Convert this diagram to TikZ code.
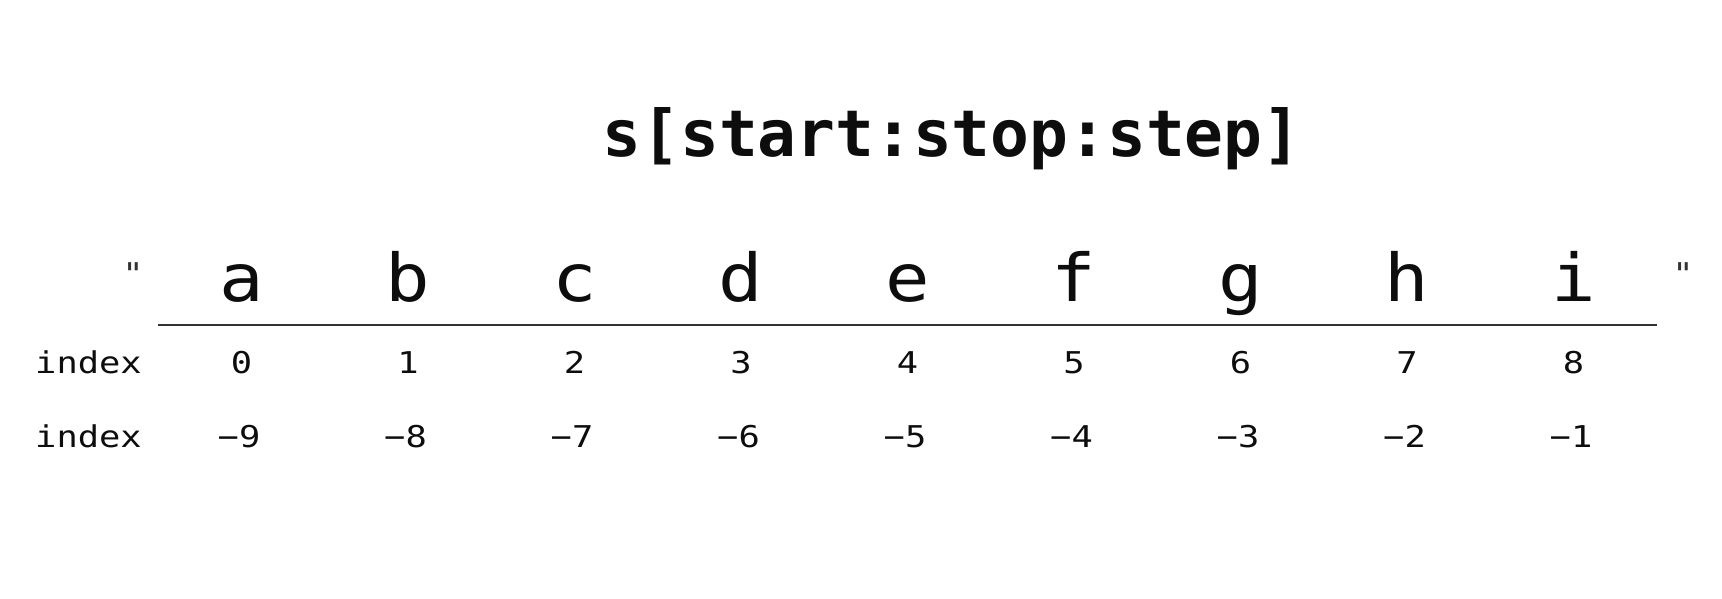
\documentclass[tikz,border=0pt]{standalone}
\usepackage{fontspec}
\newfontfamily\monofnt[FakeStretch=1.12]{DejaVu Sans Mono}
\newfontfamily\idxfnt[FakeStretch=1.18]{DejaVu Sans Mono}
\newfontfamily\monobold{DejaVu Sans Mono Bold}
\begin{document}
\begin{tikzpicture}[x=1pt,y=-1pt,
  titletext/.style={inner sep=0pt,anchor=base,font=\monobold\fontsize{64.5}{70}\selectfont,text=black!95},
  bigletter/.style={inner sep=0pt,anchor=base,font=\monofnt\fontsize{66}{72}\selectfont,text=black!95},
  idx/.style={inner sep=0pt,anchor=base,font=\idxfnt\fontsize{30}{34}\selectfont,text=black!95},
  quotemark/.style={inner sep=0pt,anchor=base,font=\idxfnt\fontsize{30}{34}\selectfont,text=black!80},
  rule/.style={line width=2.4pt,draw=black!80}]
\useasboundingbox (0,0) rectangle (1722,599);
\node[titletext] (title) at (952,157) {s[start:stop:step]};
\node[quotemark] (ql) at (133,284) {"};
\node[quotemark] (qr) at (1683,284) {"};
\foreach \ch [count=\k from 0] in {a,b,c,d,e,f,g,h,i}{
  \node[bigletter] (L\k) at ({241.6+166.5*\k},301) {\ch};
}
\coordinate (rs) at (158,325);
\coordinate (re) at (1657,325);
\draw[rule] (rs) -- (re);
\node[idx,anchor=base west] (lab1) at (35,373) {index};
\node[idx,anchor=base west] (lab2) at (35,447) {index};
\foreach \n [count=\k from 0] in {0,1,2,3,4,5,6,7,8}{
  \node[idx] (P\k) at ({241.6+166.5*\k},373) {\n};
}
\foreach \n [count=\k from 0] in {9,8,7,6,5,4,3,2,1}{
  \node[idx] (N\k) at ({239+166.5*\k},447) {−\n};
}
\end{tikzpicture}
\end{document}
